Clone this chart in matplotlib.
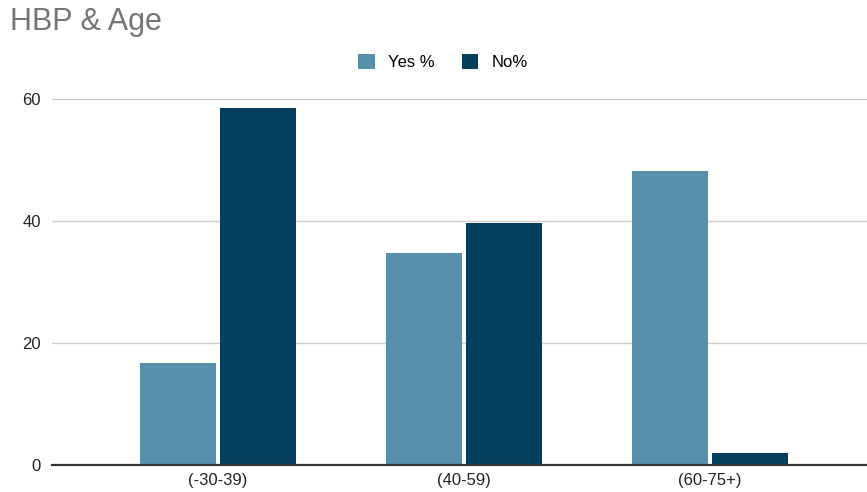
import numpy as np
import matplotlib.pyplot as plt

plt.rcParams['font.family'] = ['Liberation Sans', 'DejaVu Sans']

categories = ['(-30-39)', '(40-59)', '(60-75+)']
yes_pct = [16.7, 34.8, 48.2]
no_pct = [58.5, 39.6, 2.0]

fig = plt.figure(figsize=(8.67, 4.92), dpi=100)
ax = fig.add_axes([0.06, 0.055, 0.94, 0.744])

x = np.arange(len(categories))
w = 0.309
off = 0.163
ax.bar(x - off, yes_pct, w, color='#5790ab', label='Yes %', zorder=3)
ax.bar(x + off, no_pct, w, color='#03405e', label='No%', zorder=3)

ax.set_xlim(-0.675, 2.64)
ax.set_ylim(0, 60)
ax.set_yticks([0, 20, 40, 60])
ax.set_xticks(x)
ax.set_xticklabels(categories)
ax.tick_params(length=0, labelsize=12, colors='#222222', pad=6)
ax.tick_params(axis='y', pad=8)
ax.yaxis.grid(True, color='#cccccc', linewidth=1, zorder=0)
ax.set_axisbelow(True)
for s in ['top', 'right', 'left']:
    ax.spines[s].set_visible(False)
ax.spines['bottom'].set_color('#333333')
ax.spines['bottom'].set_linewidth(1.6)
ax.spines['bottom'].set_zorder(4)

fig.text(0.012, 0.955, 'HBP & Age', fontsize=22, color='#757575', va='center', ha='left')
fig.legend(loc='center', bbox_to_anchor=(0.511, 0.874), ncol=2, frameon=False,
           fontsize=12, handlelength=1.0, handleheight=1.0, columnspacing=1.6,
           handletextpad=0.8)

fig.savefig('out.png', dpi=100)
